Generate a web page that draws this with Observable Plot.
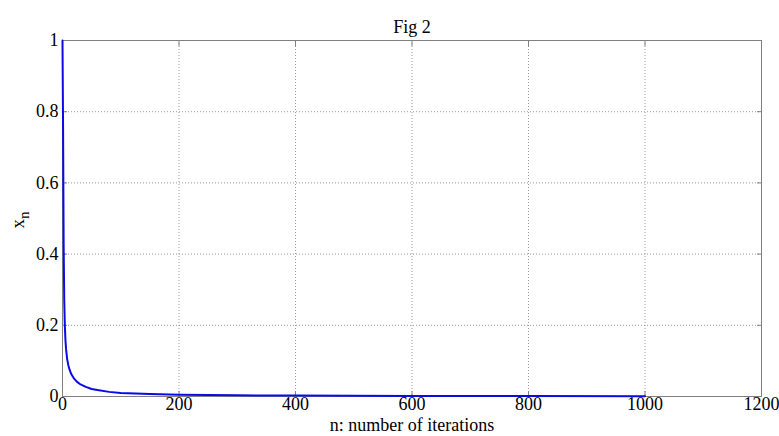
<!DOCTYPE html>
<html>
<head>
<meta charset="utf-8">
<script src="https://cdn.jsdelivr.net/npm/d3@7"></script>
<script src="https://cdn.jsdelivr.net/npm/@observablehq/plot@0.6"></script>
<style>
  html, body { margin: 0; padding: 0; background: #fff; }
  #chart svg { display: block; }
  #chart svg, #chart svg text { font-family: "Liberation Serif", "DejaVu Serif", "Times New Roman", serif !important; }
</style>
</head>
<body>
<div id="chart"></div>
<script>
// Iteration index n and value x_n
const iterations = [0, 1, 2, 3, 4, 5, 6, 8, 10, 12, 15, 20, 25, 30, 40, 50, 60, 80, 100, 150, 200, 300, 400, 500, 600, 800, 1000];
const xValues = [1, 0.75, 0.42, 0.27, 0.2, 0.16, 0.135, 0.105, 0.088, 0.076, 0.063, 0.05, 0.041, 0.035, 0.027, 0.021, 0.018, 0.013, 0.010, 0.0068, 0.0051, 0.0034, 0.0025, 0.002, 0.0017, 0.0013, 0.001];
const xTicks = [0, 200, 400, 600, 800, 1000, 1200];
const yTicks = [0, 0.2, 0.4, 0.6, 0.8, 1];
const titleText = "Fig 2";
const xLabel = "n: number of iterations";

const data = iterations.map((n, i) => ({n, x: xValues[i]}));
const font = "Liberation Serif, DejaVu Serif, serif";

const plot = Plot.plot({
  width: 779,
  height: 436,
  marginTop: 40,
  marginRight: 18,
  marginBottom: 40,
  marginLeft: 62,
  style: {fontFamily: font, fontSize: "18px", color: "#000", background: "#fff"},
  x: {domain: [0, 1200], ticks: xTicks},
  y: {domain: [0, 1], ticks: yTicks},
  marks: [
    Plot.gridX(xTicks.slice(1, -1), {stroke: "#999", strokeOpacity: 1, strokeDasharray: "1,2"}),
    Plot.gridY(yTicks.slice(1, -1), {stroke: "#999", strokeOpacity: 1, strokeDasharray: "1,2"}),
    Plot.axisX(xTicks, {tickSize: 0, tickPadding: 1, fontSize: 18, tickFormat: d => String(d), label: xLabel, labelAnchor: "center", labelArrow: "none", labelOffset: 34}),
    Plot.axisX(xTicks, {anchor: "bottom", tickSize: -5, text: null, label: null, stroke: "#808080"}),
    Plot.axisX(xTicks, {anchor: "top", tickSize: -5, text: null, label: null, stroke: "#808080"}),
    Plot.axisY(yTicks, {tickSize: 0, tickPadding: 4, fontSize: 18, label: null, tickFormat: d => String(d)}),
    Plot.axisY(yTicks, {anchor: "left", tickSize: -5, text: null, label: null, stroke: "#808080"}),
    Plot.axisY(yTicks, {anchor: "right", tickSize: -5, text: null, label: null, stroke: "#808080"}),
    Plot.frame({stroke: "#808080"}),
    Plot.line(data, {x: "n", y: "x", stroke: "#0a0ae6", strokeWidth: 2}),
    Plot.text([titleText], {frameAnchor: "top", dy: -20, fontSize: 18, fill: "#000"})
  ]
});

// y axis label x_n with subscript
const svg = d3.select(plot);
const yl = svg.append("text")
  .attr("transform", "translate(24,220) rotate(-90)")
  .attr("text-anchor", "middle")
  .attr("font-size", 19)
  .attr("fill", "#000");
yl.append("tspan").text("x");
yl.append("tspan").attr("dy", 5).attr("font-size", 15).text("n");

document.getElementById("chart").appendChild(plot);
</script>
</body>
</html>
